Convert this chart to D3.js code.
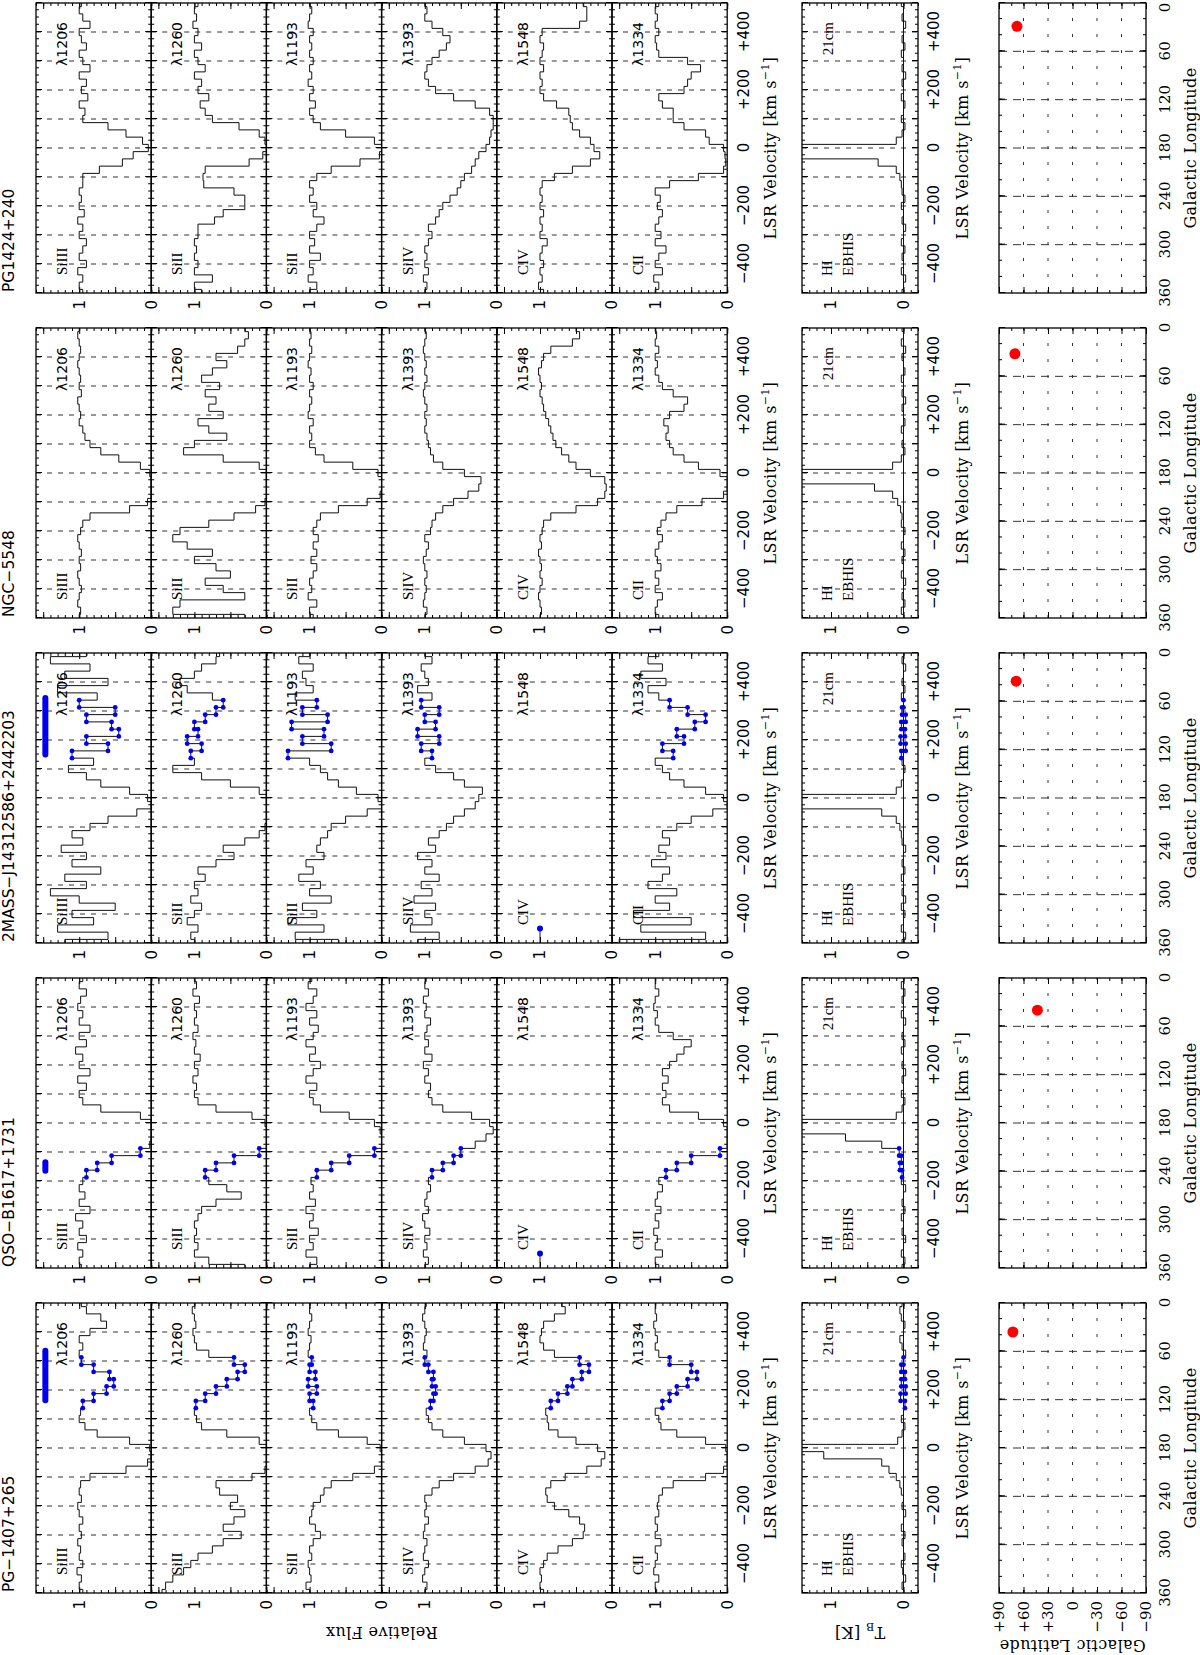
<!DOCTYPE html>
<html>
<head>
<meta charset="utf-8">
<script src="https://cdn.jsdelivr.net/npm/d3@7"></script>
<style>
  html, body { margin: 0; padding: 0; background: #fff; }
  svg { display: block; }
</style>
</head>
<body>
<div id="chart"></div>
<script>
// The figure is a landscape plot turned a quarter turn anticlockwise on the page.
// Everything below is drawn in landscape coordinates and rotated at the end.

const VELOCITY = [-500, -475, -450, -425, -400, -375, -350, -325, -300, -275, -250, -225, -200,
  -175, -150, -125, -100, -75, -50, -25, 0, 25, 50, 75, 100, 125, 150, 175, 200, 225, 250,
  275, 300, 325, 350, 375, 400, 425, 450, 475, 500];

const SIGHTLINES = ['PG\u22121407+265', 'QSO\u2212B1617+1731', '2MASS\u2212J14312586+2442203', 'NGC\u22125548', 'PG1424+240'];
const IONS = ['SiIII', 'SiII', 'SiII', 'SiIV', 'CIV', 'CII'];
const LINES = ['\u03bb1206', '\u03bb1260', '\u03bb1193', '\u03bb1393', '\u03bb1548', '\u03bb1334'];
const VEL_TICKS = [-400, -200, 0, 200, 400];
const LON_TICKS = [360, 300, 240, 180, 120, 60, 0];
const LAT_TICKS = [90, 60, 30, 0, -30, -60, -90];

// normalised flux, one value per VELOCITY bin
const PG1407_SIIII = [0.95,1.0,0.97,1.03,0.95,1.0,0.98,1.02,0.97,1.0,0.95,1.0,1.02,0.97,1.0,0.98,0.85,0.35,0.05,0.0,0.02,0.3,0.75,0.92,1.0,0.98,0.95,0.8,0.62,0.52,0.58,0.8,0.97,1.0,0.95,1.0,0.85,0.62,0.7,0.9,0.97];
const PG1407_SIII_1260 = [1.45,1.4,1.3,1.15,1.05,0.95,0.75,0.6,0.35,0.6,0.45,0.3,0.5,0.4,0.65,0.7,0.2,0.02,0.0,0.0,0.0,0.1,0.55,0.9,0.97,1.0,0.98,0.85,0.7,0.55,0.4,0.3,0.45,0.8,0.97,1.0,1.02,0.98,1.0,1.03,1.0];
const PG1407_SIII_1193 = [1.0,1.05,0.98,1.0,1.02,0.97,1.0,0.95,0.85,0.92,1.0,0.97,0.95,0.85,0.8,0.7,0.4,0.1,0.0,0.0,0.02,0.2,0.6,0.9,0.97,1.0,0.95,1.0,0.9,1.02,0.92,1.0,0.97,1.02,1.0,0.98,1.02,1.0,0.97,1.0,1.0];
const PG1407_SIIV = [1.0,0.97,1.03,1.0,0.95,1.02,1.0,0.97,1.02,1.0,0.95,1.0,0.98,1.0,0.9,0.8,0.6,0.3,0.12,0.08,0.15,0.45,0.75,0.9,0.95,0.98,0.92,0.88,0.85,0.9,0.88,0.95,1.0,0.97,1.02,1.0,0.98,1.0,1.03,1.0,0.98];
const PG1407_CIV = [0.95,1.0,0.98,1.0,0.95,0.9,0.75,0.55,0.4,0.38,0.45,0.6,0.8,0.9,0.92,0.85,0.65,0.35,0.15,0.1,0.2,0.5,0.75,0.88,0.9,0.92,0.85,0.75,0.62,0.55,0.42,0.32,0.45,0.8,0.95,1.0,0.98,0.95,0.8,0.65,0.7];
const PG1407_CII = [0.98,1.0,0.95,1.02,1.0,0.97,1.0,0.92,1.0,0.97,1.0,0.95,0.97,0.95,0.9,0.75,0.3,0.05,0.0,0.0,0.02,0.3,0.7,0.92,0.95,1.0,0.9,0.8,0.7,0.55,0.42,0.5,0.8,0.95,1.0,0.97,1.0,1.02,0.98,1.0,1.0];

const QSO_SIIII = [0.97,1.0,0.95,1.02,0.9,1.0,0.95,1.05,0.85,1.0,0.92,1.0,0.95,0.9,0.75,0.55,0.15,0.02,0.0,0.0,0.0,0.15,0.7,0.95,1.0,0.9,1.02,0.85,1.0,0.95,1.05,0.9,1.0,0.85,1.0,0.95,1.02,0.98,0.9,1.0,0.95];
const QSO_SIII_1260 = [0.3,0.8,1.0,0.95,1.0,0.97,1.0,0.95,0.9,0.7,0.35,0.55,0.8,0.85,0.7,0.45,0.1,0.0,0.0,0.0,0.02,0.2,0.7,0.95,1.0,0.97,1.02,0.95,1.0,0.92,1.0,0.98,1.02,0.95,1.0,0.97,1.0,0.93,1.02,0.97,1.0];
const QSO_SIII_1193 = [1.0,0.9,1.05,0.95,1.0,0.88,1.0,0.95,1.05,0.92,1.0,0.95,0.98,0.9,0.7,0.45,0.1,0.0,0.0,0.02,0.1,0.45,0.85,0.95,1.0,0.9,1.05,0.95,0.85,1.0,0.92,1.05,0.95,0.88,1.0,0.9,1.05,0.95,0.9,1.02,0.97];
const QSO_SIIV = [1.0,0.95,1.02,0.97,1.0,0.93,1.0,1.03,0.95,1.0,0.97,0.92,0.95,0.9,0.75,0.6,0.5,0.3,0.15,0.05,0.1,0.35,0.75,0.9,0.95,0.92,1.0,0.95,1.02,0.9,1.0,0.95,1.0,0.97,0.92,1.0,0.98,1.02,0.95,1.0,0.98];
const QSO_CIV = [1.0,1.0,1.0];   // no coverage past the first bins
const QSO_CII = [0.95,1.0,0.9,1.0,0.97,1.02,0.95,1.0,0.92,1.0,0.97,0.9,0.95,0.85,0.7,0.5,0.1,0.0,0.0,0.0,0.05,0.4,0.8,0.9,0.85,0.9,0.82,0.9,0.8,0.7,0.6,0.5,0.75,0.95,1.0,0.97,1.02,1.0,0.95,1.0,1.0];

const MASS_SIIII = [1.2,0.6,1.3,0.8,1.1,0.5,1.0,1.4,0.9,1.2,0.7,1.1,0.9,1.25,0.95,1.1,0.85,0.6,0.2,0.0,0.05,0.3,0.7,0.9,1.15,0.8,1.1,0.6,0.9,0.45,0.55,0.9,0.5,1.0,0.75,1.3,0.6,1.2,0.85,1.4,0.9];
const MASS_SIII_1260 = [1.0,1.05,0.95,1.1,1.0,0.9,1.05,0.95,1.0,0.85,0.95,0.7,0.45,0.6,0.3,0.1,0.02,0.0,0.0,0.0,0.0,0.1,0.5,0.9,1.3,1.0,1.05,0.9,1.1,0.95,1.0,0.85,0.7,0.6,0.75,1.1,1.2,1.0,0.9,0.7,0.65];
const MASS_SIII_1193 = [0.6,1.2,0.8,1.3,0.9,1.1,0.7,1.0,0.85,1.15,0.95,1.05,0.8,0.9,0.85,0.75,0.7,0.5,0.2,0.0,0.05,0.35,0.6,0.75,0.85,1.0,1.3,0.7,1.1,0.8,1.25,0.75,1.1,0.9,1.2,0.95,1.05,1.1,0.95,1.15,1.0];
const MASS_SIIV = [1.1,0.8,1.2,0.9,1.0,0.85,1.15,0.9,1.05,0.8,1.0,0.9,1.1,0.85,0.95,0.8,0.7,0.6,0.45,0.3,0.25,0.2,0.45,0.6,0.85,1.0,0.9,1.05,0.8,1.1,0.85,1.0,0.8,1.05,0.9,1.1,0.95,1.0,1.05,0.9,1.0];
const MASS_CIV = [1.0,1.0,1.0];
const MASS_CII = [1.5,0.3,1.2,0.5,1.3,0.8,1.0,0.7,1.1,0.9,0.8,1.05,0.85,0.95,0.8,0.9,0.7,0.5,0.2,0.0,0.05,0.3,0.6,0.8,0.9,1.0,0.75,0.9,0.6,0.7,0.45,0.3,0.55,0.8,0.95,1.1,0.85,1.2,0.9,1.1,0.95];

const NGC_SIIII = [1.0,0.98,1.02,1.0,0.97,1.0,1.02,0.98,1.0,0.97,1.0,1.02,0.98,0.95,0.85,0.3,0.05,0.0,0.0,0.0,0.02,0.15,0.45,0.7,0.85,0.92,0.95,1.0,0.98,1.0,1.02,0.97,1.0,0.98,1.0,1.02,1.0,0.98,1.0,1.02,1.0];
const NGC_SIII_1260 = [0.3,1.3,1.2,0.3,0.6,0.85,0.5,0.7,1.0,0.75,1.1,1.3,1.2,0.8,0.45,0.15,0.02,0.0,0.0,0.0,0.0,0.1,0.6,1.15,1.0,0.55,0.8,0.95,0.6,0.8,0.7,0.85,0.65,0.9,0.75,0.55,0.7,0.4,0.3,0.25,0.3];
const NGC_SIII_1193 = [0.95,1.0,0.9,1.02,0.97,1.0,0.95,0.9,0.98,0.9,0.95,0.88,0.95,0.9,0.85,0.6,0.2,0.02,0.0,0.0,0.05,0.4,0.8,0.92,1.0,0.97,1.0,0.95,1.02,1.0,0.97,1.0,0.95,1.0,0.98,1.02,1.0,0.97,1.0,0.98,1.0];
const NGC_SIIV = [1.0,0.97,1.02,1.0,0.98,1.0,0.97,1.0,1.02,0.98,0.95,1.0,0.92,0.9,0.85,0.75,0.6,0.4,0.25,0.22,0.45,0.75,0.88,0.92,0.95,0.97,1.0,0.98,1.0,0.97,1.0,1.02,1.0,0.97,1.0,0.98,1.0,1.02,1.0,0.98,1.0];
const NGC_CIV = [1.0,0.98,1.0,1.02,1.0,0.97,1.0,0.98,1.0,1.02,0.98,1.0,0.97,0.95,0.85,0.5,0.2,0.1,0.08,0.1,0.3,0.5,0.6,0.7,0.78,0.82,0.85,0.88,0.92,0.95,0.97,1.0,0.98,1.0,1.02,0.98,0.95,0.85,0.55,0.45,0.5];
const NGC_CII = [0.95,1.0,0.97,0.9,1.0,0.95,1.0,0.92,0.97,1.0,0.95,0.9,0.97,0.92,0.85,0.7,0.35,0.05,0.0,0.0,0.1,0.4,0.6,0.75,0.8,0.85,0.82,0.88,0.8,0.6,0.55,0.75,0.9,0.95,1.0,0.97,1.0,0.95,1.0,0.98,1.0];

const PG1424_SIIII = [0.95,1.0,0.95,1.02,0.9,1.0,0.95,0.9,1.0,0.95,1.02,0.93,1.0,0.97,1.0,0.95,0.95,0.72,0.4,0.25,0.04,0.12,0.35,0.6,0.95,0.92,1.0,0.88,0.97,0.9,1.0,0.85,0.95,1.0,0.9,0.97,1.0,0.85,0.95,1.0,0.97];
const PG1424_SIII_1260 = [0.9,1.0,0.75,1.0,0.95,1.0,0.97,1.0,0.95,0.95,0.72,0.6,0.3,0.3,0.45,0.87,0.88,0.85,0.24,0.05,0.0,0.02,0.1,0.38,0.75,0.85,0.92,0.8,0.95,0.9,1.0,0.85,0.95,1.0,0.9,1.0,0.95,1.02,0.97,1.0,0.95];
const PG1424_SIII_1193 = [1.0,0.9,1.02,0.95,1.0,0.85,1.0,0.93,1.0,0.9,0.8,0.95,0.9,1.0,0.95,1.0,0.9,0.7,0.3,0.03,0.0,0.1,0.5,0.85,0.95,1.0,0.92,1.0,0.95,1.02,0.97,1.0,0.95,1.0,0.97,1.0,0.95,1.02,1.0,0.97,1.0];
const PG1424_SIIV = [1.0,0.97,1.02,0.95,1.0,0.97,1.0,0.95,0.9,0.95,0.85,0.8,0.75,0.65,0.55,0.5,0.45,0.35,0.3,0.25,0.15,0.1,0.08,0.05,0.05,0.1,0.3,0.6,0.85,0.95,1.0,0.97,0.9,0.8,0.7,0.65,0.75,0.9,1.0,0.97,1.0];
const PG1424_CIV = [0.95,1.02,0.97,1.0,0.95,1.0,0.97,0.9,1.0,0.97,1.0,0.95,1.0,0.97,1.0,0.97,0.8,0.55,0.3,0.17,0.25,0.3,0.45,0.55,0.58,0.6,0.77,0.95,1.0,0.97,1.0,0.95,1.0,0.97,0.95,1.0,0.97,0.45,0.35,0.35,0.4];
const PG1424_CII = [1.0,0.95,1.02,0.9,1.0,0.95,0.85,1.0,0.92,1.0,0.95,0.9,0.97,0.93,1.0,0.8,0.4,0.05,0.02,0.03,0.05,0.25,0.3,0.6,0.75,0.75,0.9,0.95,0.6,0.55,0.5,0.37,0.55,0.95,0.98,1.0,0.95,1.0,0.97,1.0,0.95];

// EBHIS 21cm brightness temperature [K]
const PG1407_HI = [0.0,0.02,-0.03,0.01,0.03,-0.02,0.0,0.02,-0.02,0.03,0.0,-0.03,0.02,0.0,0.03,0.05,0.1,0.2,0.3,1.1,2.5,0.08,0.02,-0.02,0.03,0.0,-0.02,0.04,-0.03,0.03,-0.02,0.03,0.0,-0.03,0.02,0.05,0.0,-0.02,0.03,0.05,0.02];
const QSO_HI = [0.02,-0.02,0.03,0.0,-0.03,0.02,0.0,0.03,-0.02,0.02,0.0,-0.03,0.03,0.02,0.05,0.03,0.06,0.3,0.8,2.5,2.0,0.1,0.02,-0.02,0.03,0.0,0.02,-0.03,0.02,0.0,0.03,-0.02,0.02,0.0,-0.03,0.03,0.0,0.02,-0.02,0.03,0.0];
const MASS_HI = [0.02,-0.03,0.03,0.0,-0.02,0.03,-0.03,0.02,0.0,0.03,-0.02,0.02,0.0,-0.03,0.02,0.03,0.05,0.1,0.3,1.5,2.5,0.1,0.03,0.0,-0.02,0.02,0.03,-0.03,0.04,-0.02,0.03,-0.03,0.02,0.0,0.03,-0.02,0.02,0.0,-0.03,0.02,0.0];
const NGC_HI = [0.0,0.03,-0.02,0.02,0.0,-0.03,0.03,0.0,0.02,-0.02,0.03,0.0,-0.02,0.03,0.02,0.04,0.08,0.15,0.4,2.0,2.5,0.15,0.03,-0.02,0.02,0.0,0.03,-0.02,0.0,0.02,-0.03,0.02,0.0,0.03,-0.02,0.0,0.02,-0.03,0.03,0.0,0.02];
const PG1424_HI = [0.02,0.0,-0.03,0.03,0.0,0.02,-0.02,0.03,0.0,-0.03,0.02,0.0,0.03,-0.02,0.02,0.03,0.05,0.1,0.35,2.5,2.0,0.1,0.02,-0.02,0.03,0.0,-0.02,0.03,0.0,0.02,-0.03,0.02,0.0,0.03,-0.02,0.02,0.0,-0.03,0.02,0.0,0.03];

// velocity range of the marked high-velocity component, and the bar drawn above SiIII
const HVC_RANGE = [[150, 300], [-175, -100], [150, 325], null, null];
const HVC_BAR = [[165, 335], [-165, -135], [150, 345], null, null];

// galactic position of each sightline
const GAL_L = [36, 40, 35, 32, 29];
const GAL_B = [73, 43, 69, 70.5, 68];

const SPECTRA = [
  [PG1407_SIIII, PG1407_SIII_1260, PG1407_SIII_1193, PG1407_SIIV, PG1407_CIV, PG1407_CII],
  [QSO_SIIII, QSO_SIII_1260, QSO_SIII_1193, QSO_SIIV, QSO_CIV, QSO_CII],
  [MASS_SIIII, MASS_SIII_1260, MASS_SIII_1193, MASS_SIIV, MASS_CIV, MASS_CII],
  [NGC_SIIII, NGC_SIII_1260, NGC_SIII_1193, NGC_SIIV, NGC_CIV, NGC_CII],
  [PG1424_SIIII, PG1424_SIII_1260, PG1424_SIII_1193, PG1424_SIIV, PG1424_CIV, PG1424_CII]
];
const HI_PROFILES = [PG1407_HI, QSO_HI, MASS_HI, NGC_HI, PG1424_HI];

// ---- layout (landscape coordinates) ----
const W = 1200, H = 1655;
const COL_X0 = 62, COL_STEP = 325, PANEL_W = 290;
const ROW_Y0 = 36, ROW_H = 115.2;
const HI_Y0 = 802, HI_H = 116;
const MAP_Y0 = 999, MAP_H = 147;
const SANS = '"DejaVu Sans", sans-serif';
const SERIF = '"DejaVu Serif", serif';
const ROMAN = '"Liberation Serif", serif';
const BLUE = '#0000f0';

const svg = d3.select('#chart').append('svg').attr('width', W).attr('height', H);
svg.append('rect').attr('width', W).attr('height', H).attr('fill', '#fff');
const defs = svg.append('defs');
const fig = svg.append('g').attr('transform', `translate(0,${H}) rotate(-90)`);

const signFmt = d => d === 0 ? '0' : (d > 0 ? '+' + d : '\u2212' + (-d));

function stripDomain(sel) { sel.select('.domain').remove(); }

// inward ticks on all four sides
function addTicks(g, xs, ys, xv, yv, len) {
  const [l, r] = d3.extent(xs.range()), [t, b] = d3.extent(ys.range());
  g.append('g').attr('transform', `translate(0,${b})`)
    .call(d3.axisBottom(xs).tickValues(xv).tickSize(-len).tickFormat('')).call(stripDomain);
  g.append('g').attr('transform', `translate(0,${t})`)
    .call(d3.axisTop(xs).tickValues(xv).tickSize(-len).tickFormat('')).call(stripDomain);
  g.append('g').attr('transform', `translate(${l},0)`)
    .call(d3.axisLeft(ys).tickValues(yv).tickSize(-len).tickFormat('')).call(stripDomain);
  g.append('g').attr('transform', `translate(${r},0)`)
    .call(d3.axisRight(ys).tickValues(yv).tickSize(-len).tickFormat('')).call(stripDomain);
}

function frame(g, xs, ys) {
  const [l, r] = d3.extent(xs.range()), [t, b] = d3.extent(ys.range());
  g.append('rect').attr('x', l).attr('y', t).attr('width', r - l).attr('height', b - t)
    .attr('fill', 'none').attr('stroke', '#000').attr('stroke-width', 1.3);
}

function clipFor(id, xs, ys) {
  const [l, r] = d3.extent(xs.range()), [t, b] = d3.extent(ys.range());
  defs.append('clipPath').attr('id', id).append('rect')
    .attr('x', l).attr('y', t).attr('width', r - l).attr('height', b - t);
  return `url(#${id})`;
}

function velGrid(g, xs, ys) {
  const [t, b] = d3.extent(ys.range());
  g.append('g').selectAll('line').data(d3.range(-400, 401, 100)).join('line')
    .attr('x1', d => xs(d)).attr('x2', d => xs(d)).attr('y1', t).attr('y2', b)
    .attr('stroke', '#333').attr('stroke-width', 1).attr('stroke-dasharray', '5,6');
}

function velAxisLabels(g, xs, y, pad) {
  g.append('g').attr('transform', `translate(0,${y})`)
    .call(d3.axisBottom(xs).tickValues(VEL_TICKS).tickSize(0).tickPadding(pad).tickFormat(signFmt))
    .call(stripDomain)
    .attr('font-family', SANS).attr('font-size', 15).attr('color', '#000');
}

function velTitle(g, x, y) {
  const t = g.append('text').attr('x', x).attr('y', y).attr('text-anchor', 'middle')
    .attr('font-family', SERIF).attr('font-size', 16).attr('letter-spacing', 0.4);
  t.append('tspan').text('LSR Velocity [km s');
  t.append('tspan').attr('dy', -7).attr('font-size', 11).text('\u22121');
  t.append('tspan').attr('dy', 7).text(']');
}

function fluxLabels(g, ys, x) {
  g.append('g').attr('transform', `translate(${x},0)`)
    .call(d3.axisLeft(ys).tickValues([0, 1]).tickSize(0).tickPadding(7).tickFormat(d3.format('d')))
    .call(stripDomain)
    .attr('font-family', SANS).attr('font-size', 15).attr('color', '#000');
}

function stepPath(g, pts, xs, ys, clip) {
  g.append('path').datum(pts)
    .attr('clip-path', clip)
    .attr('fill', 'none').attr('stroke', '#111').attr('stroke-width', 1)
    .attr('d', d3.line().x(d => xs(d.v)).y(d => ys(d.f)).curve(d3.curveStep));
}

function hvcDots(g, pts, xs, ys, range, clip) {
  if (!range) return;
  const sel = pts.filter(d => d.v >= range[0] && d.v <= range[1]);
  const corners = sel.flatMap(d => [{ v: d.v - 12.5, f: d.f }, { v: d.v + 12.5, f: d.f }]);
  g.append('g').attr('clip-path', clip).selectAll('circle').data(corners).join('circle')
    .attr('cx', d => xs(d.v)).attr('cy', d => ys(d.f)).attr('r', 2.4).attr('fill', BLUE);
}

SIGHTLINES.forEach((name, c) => {
  const x0 = COL_X0 + c * COL_STEP;
  const xs = d3.scaleLinear().domain([-500, 500]).range([x0, x0 + PANEL_W]);
  const col = fig.append('g');

  col.append('text').attr('x', x0 + 1).attr('y', 14)
    .attr('font-family', SANS).attr('font-size', 15.5).text(name);

  // absorption panels
  SPECTRA[c].forEach((flux, r) => {
    const y0 = ROW_Y0 + r * ROW_H;
    const ys = d3.scaleLinear().domain([0, 1.6]).range([y0 + ROW_H, y0]);
    const g = col.append('g');
    const clip = clipFor(`clip-${c}-${r}`, xs, ys);
    velGrid(g, xs, ys);
    addTicks(g, xs, ys, d3.range(-500, 501, 25), d3.range(0, 1.61, 0.1), 3);
    addTicks(g, xs, ys, d3.range(-500, 501, 100), d3.range(0, 1.61, 0.5), 6);

    const pts = flux.map((f, i) => ({ v: VELOCITY[i], f: f }));
    stepPath(g, pts, xs, ys, clip);
    if (flux.length < VELOCITY.length) {
      // no data beyond this point: mark the last pixel
      const last = pts[pts.length - 1];
      g.append('circle').attr('cx', xs(last.v)).attr('cy', ys(last.f)).attr('r', 3).attr('fill', BLUE);
    } else {
      hvcDots(g, pts, xs, ys, HVC_RANGE[c], clip);
    }
    if (r === 0 && HVC_BAR[c]) {
      g.append('line')
        .attr('x1', xs(HVC_BAR[c][0])).attr('x2', xs(HVC_BAR[c][1]))
        .attr('y1', ys(1.47)).attr('y2', ys(1.47))
        .attr('stroke', BLUE).attr('stroke-width', 6).attr('stroke-linecap', 'round');
    }
    frame(g, xs, ys);
    g.attr('color', '#000');
    g.append('text').attr('x', x0 + 18).attr('y', y0 + 31)
      .attr('font-family', ROMAN).attr('font-size', 15).text(IONS[r]);
    g.append('text').attr('x', x0 + 271).attr('y', y0 + 31).attr('text-anchor', 'end')
      .attr('font-family', SANS).attr('font-size', 14).text(LINES[r]);
    fluxLabels(g, ys, x0);
  });

  const rowBottom = ROW_Y0 + 6 * ROW_H;
  velAxisLabels(col, xs, rowBottom, 11);
  velTitle(col, x0 + PANEL_W / 2, rowBottom + 49);

  // 21cm panel
  {
    const ys = d3.scaleLinear().domain([-0.2, 1.4]).range([HI_Y0 + HI_H, HI_Y0]);
    const g = col.append('g').attr('color', '#000');
    const clip = clipFor(`clip-hi-${c}`, xs, ys);
    velGrid(g, xs, ys);
    addTicks(g, xs, ys, d3.range(-500, 501, 25), d3.range(-0.2, 1.41, 0.1), 3);
    addTicks(g, xs, ys, d3.range(-500, 501, 100), [0, 0.5, 1], 6);
    g.append('line').attr('x1', xs(-500)).attr('x2', xs(500)).attr('y1', ys(0)).attr('y2', ys(0))
      .attr('stroke', '#111').attr('stroke-width', 1);
    const pts = HI_PROFILES[c].map((f, i) => ({ v: VELOCITY[i], f: f }));
    stepPath(g, pts, xs, ys, clip);
    hvcDots(g, pts, xs, ys, HVC_RANGE[c], clip);
    frame(g, xs, ys);
    g.append('text').attr('x', x0 + 17).attr('y', HI_Y0 + 30)
      .attr('font-family', ROMAN).attr('font-size', 15).text('HI');
    g.append('text').attr('x', x0 + 17).attr('y', HI_Y0 + 51)
      .attr('font-family', ROMAN).attr('font-size', 15).text('EBHIS');
    g.append('text').attr('x', x0 + 271).attr('y', HI_Y0 + 31).attr('text-anchor', 'end')
      .attr('font-family', ROMAN).attr('font-size', 15).text('21cm');
    fluxLabels(g, ys, x0);
    velAxisLabels(col, xs, HI_Y0 + HI_H, 10);
    velTitle(col, x0 + PANEL_W / 2, HI_Y0 + HI_H + 50);
  }

  // sky position panel
  {
    const lon = d3.scaleLinear().domain([360, 0]).range([x0, x0 + PANEL_W]);
    const lat = d3.scaleLinear().domain([-90, 90]).range([MAP_Y0 + MAP_H, MAP_Y0]);
    const g = col.append('g').attr('color', '#000');
    g.append('g').selectAll('line').data([60, 120, 180, 240, 300]).join('line')
      .attr('x1', d => lon(d)).attr('x2', d => lon(d)).attr('y1', MAP_Y0).attr('y2', MAP_Y0 + MAP_H)
      .attr('stroke', '#333').attr('stroke-dasharray', '8,6');
    g.append('g').selectAll('line').data([60, 30, 0, -30, -60]).join('line')
      .attr('x1', x0).attr('x2', x0 + PANEL_W).attr('y1', d => lat(d)).attr('y2', d => lat(d))
      .attr('stroke', '#333').attr('stroke-dasharray', '3,13');
    addTicks(g, lon, lat, d3.range(0, 361, 20), d3.range(-90, 91, 15), 3);
    addTicks(g, lon, lat, d3.range(0, 361, 60), d3.range(-90, 91, 30), 6);
    frame(g, lon, lat);
    g.append('circle').attr('cx', lon(GAL_L[c])).attr('cy', lat(GAL_B[c])).attr('r', 5.5).attr('fill', '#ff0000');
    const lonAxis = g.append('g').attr('transform', `translate(0,${MAP_Y0 + MAP_H})`)
      .call(d3.axisBottom(lon).tickValues(LON_TICKS).tickSize(0).tickPadding(13).tickFormat(d3.format('d')))
      .call(stripDomain)
      .attr('font-family', SERIF).attr('font-size', 15).attr('color', '#000');
    if (c === SIGHTLINES.length - 1) {
      // keep the last label inside the page edge
      lonAxis.selectAll('.tick').filter(d => d === 0).select('text').attr('dx', -5);
    }
    g.append('text').attr('x', x0 + PANEL_W / 2).attr('y', MAP_Y0 + MAP_H + 50).attr('text-anchor', 'middle')
      .attr('font-family', SERIF).attr('font-size', 16).attr('letter-spacing', 0.4).text('Galactic Longitude');
    if (c === 0) {
      g.append('g').attr('transform', `translate(${x0},0)`)
        .call(d3.axisLeft(lat).tickValues(LAT_TICKS).tickSize(0).tickPadding(8).tickFormat(signFmt))
        .call(stripDomain)
        .attr('font-family', SERIF).attr('font-size', 15).attr('color', '#000');
    }
  }
});

// y-axis titles on the first column
function yTitle(x, y, build) {
  const t = fig.append('text').attr('transform', `translate(${x},${y}) rotate(-90)`)
    .attr('text-anchor', 'middle').attr('font-family', SERIF).attr('font-size', 16).attr('letter-spacing', 0.4);
  build(t);
}
yTitle(28, ROW_Y0 + 3 * ROW_H, t => t.text('Relative Flux'));
yTitle(28, HI_Y0 + HI_H / 2, t => {
  t.append('tspan').text('T');
  t.append('tspan').attr('dy', 4).attr('font-size', 11).text('B');
  t.append('tspan').attr('dy', -4).text(' [K]');
});
yTitle(15, MAP_Y0 + MAP_H / 2, t => t.text('Galactic Latitude'));
</script>
</body>
</html>
